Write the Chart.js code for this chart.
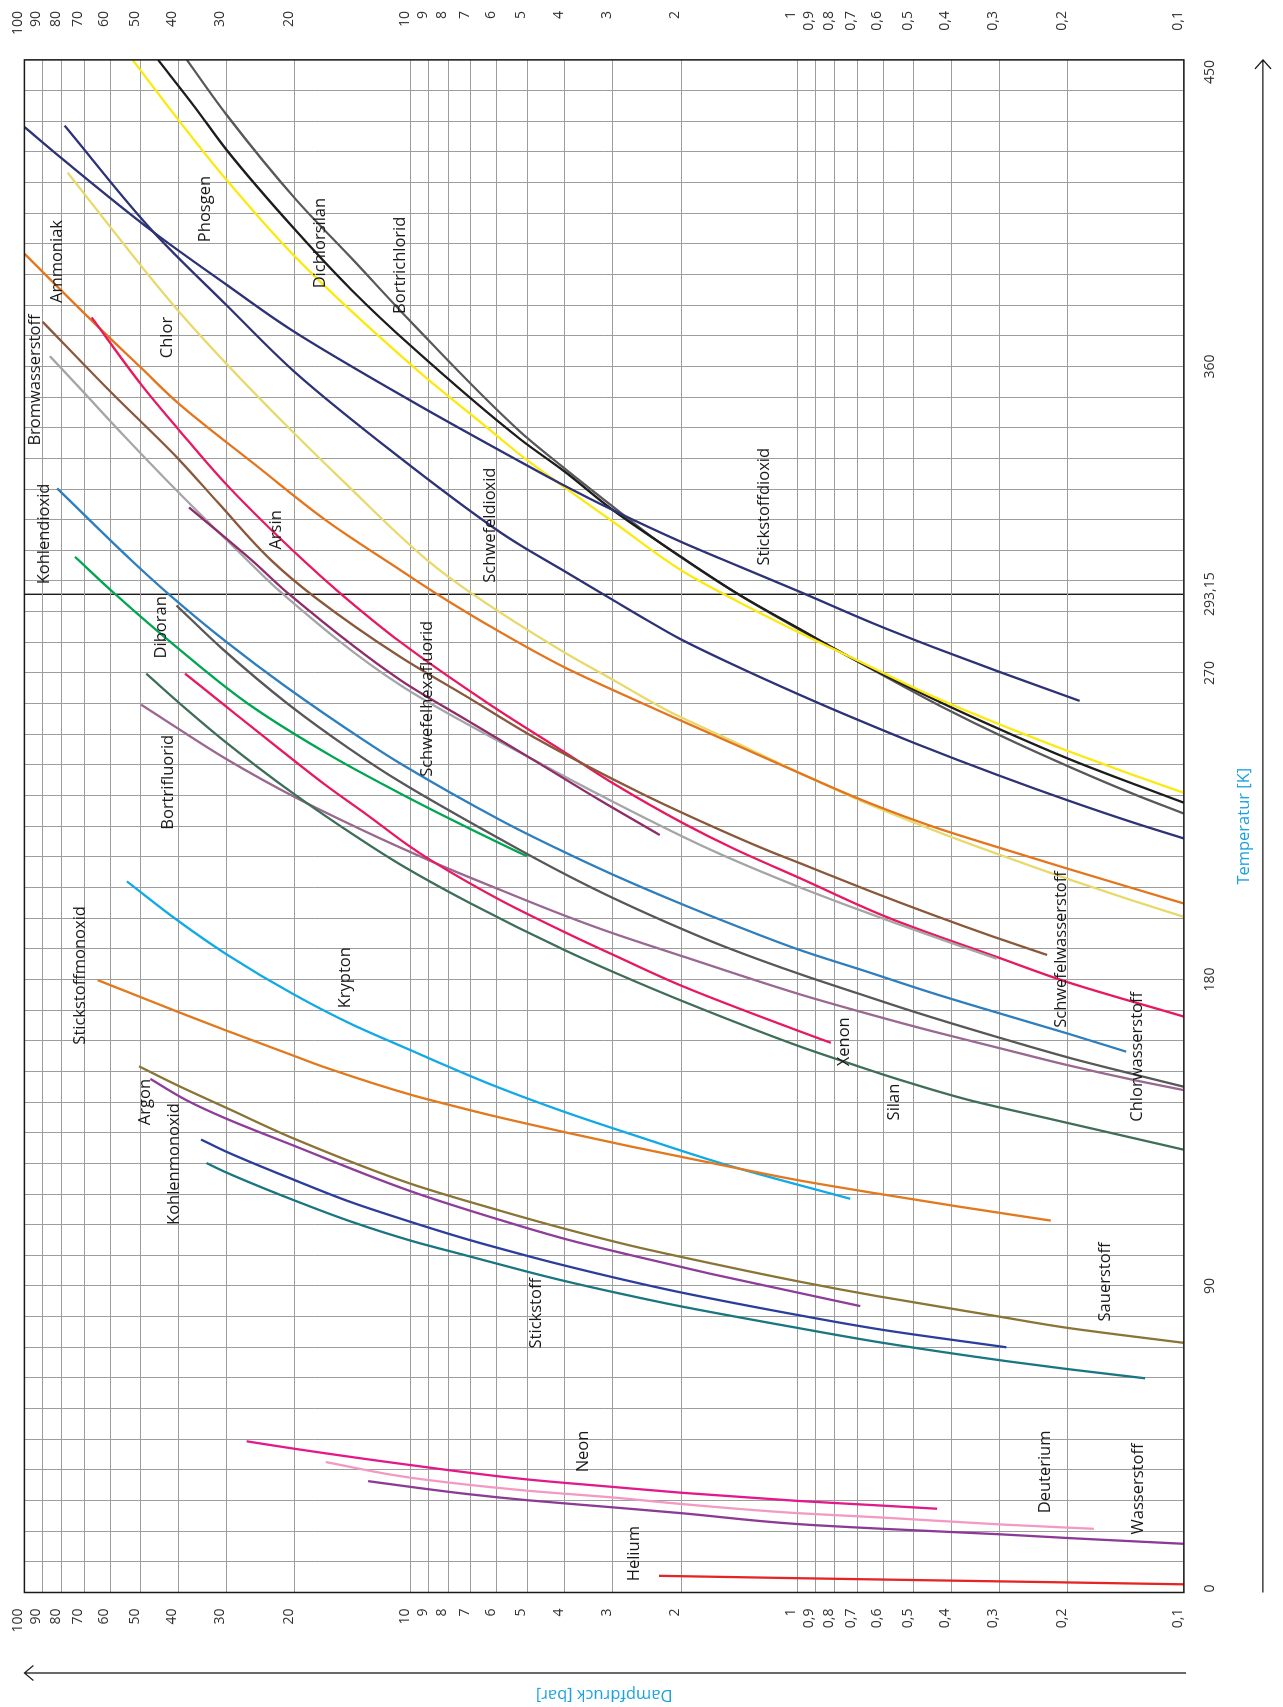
<!DOCTYPE html>
<html lang="de">
<head>
<meta charset="utf-8">
<title>Dampfdruckkurven</title>
<script src="https://cdn.jsdelivr.net/npm/chart.js@4.4.1/dist/chart.umd.min.js"></script>
<style>
  html, body { margin: 0; padding: 0; background: #fff; overflow: hidden; width: 1283px; height: 1707px; }
  #wrap { position: absolute; left: 0; top: 0; width: 1707px; height: 1283px;
          transform-origin: 0 0; transform: translateY(1707px) rotate(-90deg); }
</style>
</head>
<body>
<div id="wrap"><canvas id="chart" width="1707" height="1283"></canvas></div>
<script>
// Werte [T in K, p in bar]
const helium = [[2.4,0.1],[3.1,0.24],[4.2,1.0],[4.9,2.28]];
const wasserstoff = [[14.3,0.1],[16.0,0.2],[17.1,0.3],[18.7,0.6],[20.1,1.0],[23.3,2.0],[25.0,3.0],[27.1,5.0],[28.8,7.0],[31.0,10.0],[32.7,12.9]];
const deuterium = [[18.7,0.171],[20.0,0.3],[22.0,0.6],[23.3,1.0],[26.0,2.0],[27.9,3.0],[29.9,5.0],[33.7,10.0],[38.3,16.6]];
const neon = [[24.6,0.435],[25.5,0.6],[26.9,1.0],[29.3,2.0],[31.0,3.0],[33.2,5.0],[37.4,10.0],[42.2,20.0],[44.4,26.6]];
const stickstoff = [[62.9,0.126],[65.6,0.2],[67.8,0.282],[73.3,0.6],[77.7,1.0],[84.3,2.06],[87.6,2.83],[91.4,3.98],[94.2,5.0],[98.6,7.0],[103.3,10.0],[108.8,14.2],[115.1,20.0],[123.3,30.0],[126.1,33.8]];
const kohlenmonoxid = [[72.0,0.288],[77.1,0.6],[81.5,1.0],[88.1,2.0],[91.4,2.71],[96.4,4.13],[98.9,5.02],[103.5,7.05],[108.8,10.0],[114.5,14.2],[121.1,20.0],[129.4,30.0],[133.0,34.9]];
const sauerstoff = [[73.3,0.1],[77.7,0.2],[81.0,0.3],[87.0,0.62],[91.4,1.0],[98.6,2.01],[101.9,2.71],[106.8,4.0],[112.3,5.96],[120.0,10.0],[133.2,20.0],[142.3,30.0],[148.8,40.0],[154.5,50.5]];
const argon = [[84.1,0.688],[88.7,1.06],[93.6,1.68],[99.1,2.71],[103.5,3.9],[109.6,5.96],[117.8,10.0],[131.6,20.5],[139.1,30.0],[144.5,38.0],[150.8,47.2]];
const stickstoffmonoxid = [[109.2,0.221],[113.4,0.387],[117.3,0.634],[121.1,1.0],[126.6,1.75],[131.0,2.71],[134.8,3.87],[139.7,6.0],[142.6,7.6],[146.0,9.9],[153.9,16.4],[157.5,20.0],[165.1,30.2],[170.3,39.7],[173.8,47.5],[179.8,64.6]];
const krypton = [[115.6,0.73],[125.5,1.52],[134.3,2.65],[141.1,4.0],[148.5,6.0],[154.4,8.0],[159.2,10.0],[166.8,14.2],[175.5,20.0],[187.4,30.0],[197.2,40.0],[208.8,54.3]];
const xenon = [[161.4,0.819],[164.7,0.983],[177.9,1.97],[187.2,2.99],[193.0,3.85],[203.3,5.87],[215.1,8.91],[219.5,10.2],[228.1,12.9],[236.8,16.5],[246.6,21.3],[260.7,30.5],[269.8,38.4]];
const silan = [[130.0,0.1],[133.5,0.136],[139.7,0.235],[144.6,0.36],[150.5,0.542],[155.4,0.735],[160.3,0.984],[173.0,1.92],[181.8,2.94],[188.6,4.0],[202.3,7.0],[213.6,10.6],[221.6,13.7],[234.7,20.2],[249.9,30.3],[259.7,38.4],[269.8,48.4]];
const bortrifluorid = [[147.5,0.1],[150.5,0.135],[154.9,0.201],[159.8,0.299],[164.7,0.444],[170.0,0.661],[175.6,0.983],[186.7,1.97],[193.5,2.99],[198.9,4.03],[206.3,5.87],[212.6,8.02],[217.3,9.98],[222.7,12.7],[233.6,20.0],[244.4,29.7],[252.0,38.0],[260.7,49.9]];
const diboran = [[148.5,0.1],[151.9,0.132],[156.8,0.195],[162.7,0.296],[170.0,0.483],[175.9,0.697],[181.3,0.97],[189.6,1.54],[194.5,1.96],[203.3,2.92],[210.2,3.88],[218.0,5.22],[238.0,10.65],[247.7,14.4],[260.7,20.7],[277.0,30.7],[289.8,40.4]];
const chlorwasserstoff = [[158.8,0.141],[164.2,0.201],[170.0,0.299],[175.9,0.444],[182.3,0.661],[188.6,0.983],[196.5,1.50],[201.9,1.97],[210.7,2.99],[218.0,4.11],[226.8,5.87],[243.4,10.65],[249.9,13.1],[266.2,21.2],[279.2,30.1],[292.8,42.0],[303.1,52.9],[324.2,82.3]];
const kohlendioxid = [[216.2,5.01],[218.4,5.51],[225.8,7.5],[234.6,10.65],[245.5,16.0],[260.7,26.2],[278.1,40.9],[292.8,57.8],[304.1,74.0]];
const schwefelhexafluorid = [[222.4,2.27],[232.6,3.24],[244.4,4.81],[256.1,7.16],[267.9,10.65],[292.8,20.5],[303.1,25.8],[309.0,29.7],[318.6,37.5]];
const bromwasserstoff = [[186.1,0.305],[190.6,0.397],[196.5,0.556],[201.9,0.750],[207.2,0.993],[218.0,1.67],[232.6,3.05],[244.4,4.8],[266.4,10.65],[293.3,21.5],[303.1,26.5],[323.1,40.0],[339.4,55.0],[352.5,70.4],[363.0,85.9]];
const schwefelwasserstoff = [[187.2,0.226],[192.6,0.312],[198.9,0.445],[206.3,0.661],[214.1,0.983],[218.0,1.20],[224.8,1.65],[234.6,2.53],[251.2,4.82],[263.0,7.16],[274.7,10.65],[292.2,17.7],[303.1,23.0],[319.9,31.5],[332.9,40.0],[352.5,59.8],[373.1,89.7]];
const arsin = [[169.1,0.1],[179.3,0.201],[186.2,0.298],[197.9,0.575],[209.7,0.983],[218.4,1.46],[225.8,1.97],[237.5,2.99],[246.3,3.95],[261.0,6.3],[279.1,10.65],[293.3,15.2],[303.1,19.0],[325.3,30.0],[341.6,40.0],[354.6,49.8],[374.4,67.0]];
const ammoniak = [[202.3,0.1],[212.6,0.201],[218.0,0.287],[224.8,0.444],[232.1,0.661],[240.5,0.983],[256.1,2.01],[264.9,2.99],[271.8,4.03],[282.5,5.98],[293.3,8.6],[300.2,10.65],[314.4,16.4],[330.7,25.0],[349.2,40.0],[359.5,49.8],[374.2,68.0],[393.1,100]];
const chlor = [[198.4,0.1],[203.3,0.137],[209.2,0.196],[218.0,0.324],[223.8,0.444],[231.7,0.661],[240.5,0.98],[249.8,1.46],[259.1,2.18],[267.9,2.99],[276.2,4.03],[293.3,6.95],[303.1,9.07],[326.4,15.0],[340.5,20.1],[359.0,29.0],[374.2,38.5],[388.3,48.9],[416.9,77.3]];
const schwefeldioxid = [[221.4,0.1],[225.8,0.133],[232.6,0.2],[240.0,0.303],[249.3,0.495],[256.1,0.693],[263.5,0.983],[272.8,1.49],[280.1,2.02],[285.5,2.45],[291.4,3.0],[300.2,4.05],[307.5,5.21],[312.3,6.05],[334.0,10.9],[358.4,20.0],[378.0,30.0],[399.4,46.3],[430.7,78.7]];
const stickstoffdioxid = [[261.8,0.186],[270.3,0.30],[276.7,0.425],[284.5,0.635],[293.8,0.985],[301.2,1.41],[308.5,2.0],[317.8,3.0],[325.6,4.1],[332.0,5.21],[349.2,9.75],[370.9,20.5],[384.0,30.0],[399.4,46.3],[420.9,79.7],[430.3,100]];
const phosgen = [[234.8,0.1],[240.5,0.139],[247.3,0.202],[255.1,0.303],[263.0,0.444],[273.7,0.70],[282.1,1.0],[291.4,1.45],[299.7,1.97],[314.4,3.0],[324.9,4.05],[334.0,5.21],[339.4,5.95],[360.1,9.9],[391.6,19.7],[414.4,29.8],[432.0,39.7],[450,52.5]];
const dichlorsilan = [[231.9,0.1],[237.0,0.132],[244.4,0.195],[253.2,0.296],[262.0,0.438],[272.8,0.681],[283.0,0.99],[292.9,1.41],[304.1,2.0],[317.8,3.0],[329.1,4.0],[338.6,5.21],[366.0,10.0],[382.3,14.2],[400.3,20.0],[423.6,30.0],[436.1,36.2],[450,45.1]];
const bortrichlorid = [[228.7,0.1],[234.6,0.136],[241.9,0.193],[250.7,0.287],[260.0,0.422],[271.3,0.647],[282.5,0.98],[293.0,1.42],[303.1,1.95],[310.1,2.39],[318.8,3.0],[331.0,4.1],[340.8,5.21],[373.1,10.0],[391.6,14.2],[408.9,19.8],[433.9,30.0],[450,38.0]];

const series = [helium, wasserstoff, deuterium, neon, stickstoff, kohlenmonoxid, sauerstoff, argon,
  stickstoffmonoxid, krypton, xenon, silan, bortrifluorid, diboran, chlorwasserstoff, kohlendioxid,
  schwefelhexafluorid, bromwasserstoff, schwefelwasserstoff, arsin, ammoniak, chlor, schwefeldioxid,
  stickstoffdioxid, phosgen, dichlorsilan, bortrichlorid];
const names = ['Helium','Wasserstoff','Deuterium','Neon','Stickstoff','Kohlenmonoxid','Sauerstoff','Argon',
  'Stickstoffmonoxid','Krypton','Xenon','Silan','Bortrifluorid','Diboran','Chlorwasserstoff','Kohlendioxid',
  'Schwefelhexafluorid','Bromwasserstoff','Schwefelwasserstoff','Arsin','Ammoniak','Chlor','Schwefeldioxid',
  'Stickstoffdioxid','Phosgen','Dichlorsilan','Bortrichlorid'];
// where each name sits, [T, p]
const nameAnchors = [[11.4,2.64],[30.4,0.131],[35.4,0.228],[41.4,3.59],[82.0,4.74],[125.8,40.9],[91.2,0.160],[144.0,48.6],
  [181.2,71.8],[180.5,14.8],[161.7,0.758],[144.0,0.563],[237.9,42.4],[283.4,44.3],[157.3,0.132],[310.8,89.0],
  [262.4,9.07],[356.0,93.5],[188.8,0.2077],[312.0,22.3],[390.8,82.3],[368.5,42.7],[313.4,6.24],
  [318.8,1.22],[406.2,34.0],[396.2,17.2],[389.7,10.65]];
const colors = ['#e52524','#8b3b96','#f29ac2','#e3198b','#1a7680','#2c3e9c','#8a7537','#8e3d9a',
  '#e2791e','#11aae6','#e9195f','#3f6f58','#9a6890','#58585a','#2f7fbf','#00a651',
  '#8f2d6b','#a5a5a7','#8a583a','#e9195f','#e5751d','#e8d96c','#2e3377',
  '#2e3377','#fbe90f','#1d1d1b','#59595b'];

const pressureTicks = [0.1,0.2,0.3,0.4,0.5,0.6,0.7,0.8,0.9,1,2,3,4,5,6,7,8,9,10,20,30,40,50,60,70,80,90,100];
const pressureLabels = ['0,1','0,2','0,3','0,4','0,5','0,6','0,7','0,8','0,9','1','2','3','4','5','6','7','8','9','10','20','30','40','50','60','70','80','90','100'];
const tempLabelValues = [0, 90, 180, 270, 293.15, 360, 450];
const tempLabelTexts = ['0','90','180','270','293,15','360','450'];
const tempStep = 9;

let tempGrid = [];
for (let t = 0; t <= 450; t += tempStep) tempGrid.push(t);
tempGrid.push(293.15);
tempGrid.sort((a, b) => a - b);

const cyan = '#1ea2de';
Chart.defaults.font.family = '"Open Sans", "DejaVu Sans", sans-serif';
Chart.defaults.color = '#333';

const pressureLabel = v => {
  let i = pressureTicks.indexOf(v);
  return i >= 0 ? pressureLabels[i] : '';
};

const decorations = {
  id: 'decorations',
  afterDatasetsDraw(chart) {
    const ctx = chart.ctx;
    const a = chart.chartArea;
    const xs = chart.scales.x, ys = chart.scales.y;
    ctx.save();
    ctx.strokeStyle = '#1a1a1a';
    ctx.lineWidth = 1.5;
    ctx.strokeRect(a.left, a.top, a.right - a.left, a.bottom - a.top);

    ctx.font = '16.5px "Open Sans"';
    ctx.fillStyle = '#1a1a1a';
    ctx.textAlign = 'center';
    ctx.textBaseline = 'middle';
    names.forEach((n, i) => {
      ctx.fillText(n, xs.getPixelForValue(nameAnchors[i][0]), ys.getPixelForValue(nameAnchors[i][1]));
    });

    // axis arrows outside the plot
    ctx.strokeStyle = '#1a1a1a';
    ctx.lineWidth = 1.3;
    let px = a.left - 80.5;
    ctx.beginPath();
    ctx.moveTo(px, a.bottom + 2);
    ctx.lineTo(px, a.top);
    ctx.moveTo(px - 7.5, a.top + 9);
    ctx.lineTo(px, a.top);
    ctx.lineTo(px + 7.5, a.top + 9);
    ctx.stroke();

    let ty = a.bottom + 79;
    ctx.beginPath();
    ctx.moveTo(a.left, ty);
    ctx.lineTo(a.right, ty);
    ctx.moveTo(a.right - 9, ty - 8);
    ctx.lineTo(a.right, ty);
    ctx.lineTo(a.right - 9, ty + 8);
    ctx.stroke();
    ctx.restore();
  }
};

new Chart(document.getElementById('chart'), {
  type: 'line',
  data: {
    datasets: series.map((s, i) => ({
      label: names[i],
      data: s.map(d => ({x: d[0], y: d[1]})),
      borderColor: colors[i],
      borderWidth: 2.3,
      pointRadius: 0,
      fill: false,
      cubicInterpolationMode: 'monotone'
    }))
  },
  options: {
    responsive: false,
    devicePixelRatio: 1,
    animation: false,
    events: [],
    layout: { padding: { top: 24, right: 11, bottom: 0, left: 0 } },
    plugins: { legend: { display: false }, tooltip: { enabled: false } },
    scales: {
      x: {
        type: 'linear', min: 0, max: 450,
        afterBuildTicks: s => { s.ticks = tempGrid.map(v => ({ value: v })); },
        afterFit: s => { s.height = 99.1; },
        ticks: {
          autoSkip: false, maxRotation: 0, minRotation: 0, align: 'inner', padding: 18,
          font: { size: 14 }, color: '#333',
          callback: v => { let i = tempLabelValues.indexOf(v); return i >= 0 ? tempLabelTexts[i] : ''; }
        },
        grid: {
          drawTicks: false,
          color: c => (c.tick && c.tick.value === 293.15) ? '#1a1a1a' : '#9d9d9d',
          lineWidth: c => (c.tick && c.tick.value === 293.15) ? 1.4 : 1
        },
        border: { display: false },
        title: { display: true, text: 'Temperatur [K]', color: cyan, font: { size: 16.5 }, padding: { top: 0, bottom: 29 } }
      },
      y: {
        type: 'logarithmic', position: 'left', min: 0.1, max: 100,
        afterBuildTicks: s => { s.ticks = pressureTicks.map(v => ({ value: v })); },
        afterFit: s => { s.width = 114.5; },
        ticks: { autoSkip: false, padding: 16, labelOffset: -6, font: { size: 14 }, color: '#333', callback: pressureLabel },
        grid: { drawTicks: false, color: '#9d9d9d', lineWidth: 1 },
        border: { display: false },
        title: { display: true, text: 'Dampfdruck [bar]', color: cyan, font: { size: 16.5 }, padding: { top: 2, bottom: 0 } }
      },
      y2: {
        type: 'logarithmic', position: 'right', min: 0.1, max: 100,
        afterBuildTicks: s => { s.ticks = pressureTicks.map(v => ({ value: v })); },
        afterFit: s => { s.width = 48.9; },
        ticks: { autoSkip: false, padding: 16, labelOffset: -6, crossAlign: 'far', font: { size: 14 }, color: '#333', callback: pressureLabel },
        grid: { drawOnChartArea: false, drawTicks: false },
        border: { display: false }
      }
    }
  },
  plugins: [decorations]
});
</script>
</body>
</html>
